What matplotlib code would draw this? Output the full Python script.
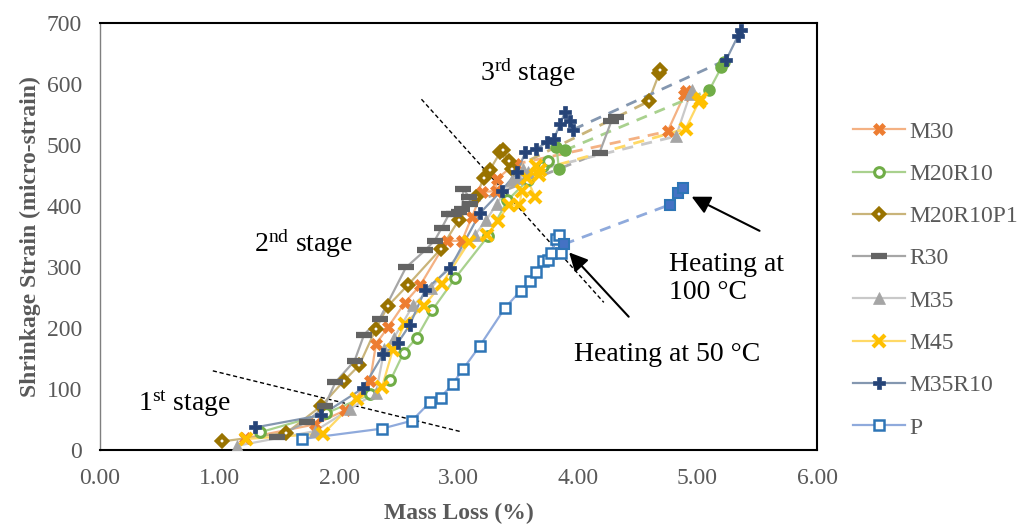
import matplotlib
matplotlib.use("Agg")
import matplotlib.pyplot as plt
from matplotlib.lines import Line2D

plt.rcParams['font.family'] = ['Liberation Serif', 'DejaVu Serif']
plt.rcParams['mathtext.fontset'] = 'custom'
plt.rcParams['mathtext.rm'] = 'Liberation Serif'
plt.rcParams['mathtext.it'] = 'Liberation Serif:italic'

# ---------------- data ----------------
x_ticks = [0, 1, 2, 3, 4, 5, 6]
x_tick_labels = ["0.00", "1.00", "2.00", "3.00", "4.00", "5.00", "6.00"]
y_ticks = [0, 100, 200, 300, 400, 500, 600, 700]

series_names = ["M30", "M20R10", "M20R10P1", "R30", "M35", "M45", "M35R10", "P"]

# M30
m30_amb_x = [1.21, 1.80, 2.05, 2.26, 2.31, 2.41, 2.55, 2.68, 2.90, 3.03, 3.11, 3.20, 3.31]
m30_amb_y = [19, 42, 65, 113, 174, 201, 241, 270, 342, 343, 381, 423, 424]
m30_h50_x = [3.32, 3.47]
m30_h50_y = [444, 468]
m30_h100_x = [4.75, 4.89, 4.90]
m30_h100_y = [522, 582, 588]

# M20R10
m20r10_amb_x = [1.34, 1.89, 2.26, 2.43, 2.54, 2.65, 2.78, 2.97, 3.25, 3.41, 3.58, 3.71, 3.75]
m20r10_amb_y = [29, 60, 91, 114, 159, 184, 229, 281, 351, 409, 442, 466, 473]
m20r10_h50_x = [3.84, 3.82, 3.89]
m20r10_h50_y = [461, 496, 491]
m20r10_h100_x = [5.10, 5.20, 5.22]
m20r10_h100_y = [590, 627, 636]

# M20R10P1
m20r10p1_amb_x = [1.02, 1.56, 1.85, 2.04, 2.17, 2.31, 2.41, 2.58, 2.85, 3.00, 3.15, 3.21, 3.26, 3.35, 3.37]
m20r10p1_amb_y = [14, 28, 72, 113, 139, 199, 236, 271, 329, 376, 415, 446, 458, 488, 492]
m20r10p1_h50_x = [3.42, 3.45]
m20r10p1_h50_y = [473, 461]
m20r10p1_h100_x = [4.59, 4.68, 4.69]
m20r10p1_h100_y = [571, 617, 622]

# R30
r30_amb_x = [1.48, 1.73, 1.88, 1.97, 2.13, 2.21, 2.34, 2.56, 2.72, 2.80, 2.86, 2.92, 2.96, 3.00, 3.03, 3.04]
r30_amb_y = [22, 46, 72, 111, 146, 189, 215, 299, 327, 343, 364, 386, 387, 390, 395, 428]
r30_h50_x = [3.09, 3.10]
r30_h50_y = [414, 403]
r30_h100_x = [4.18, 4.28, 4.32]
r30_h100_y = [487, 539, 545]

# M35
m35_amb_x = [1.15, 1.80, 2.09, 2.31, 2.38, 2.46, 2.62, 2.77, 3.14, 3.23, 3.32, 3.45, 3.54]
m35_amb_y = [7, 31, 67, 94, 165, 184, 237, 265, 353, 376, 403, 443, 461]
m35_h50_x = [3.50, 3.58]
m35_h50_y = [445, 455]
m35_h100_x = [4.82, 4.94, 4.95]
m35_h100_y = [514, 584, 589]

# M45
m45_amb_x = [1.22, 1.87, 2.15, 2.36, 2.45, 2.55, 2.71, 2.86, 3.09, 3.24, 3.33, 3.42, 3.51, 3.53, 3.64]
m45_amb_y = [18, 27, 83, 103, 164, 207, 236, 272, 341, 352, 375, 402, 401, 425, 415]
m45_h50_x = [3.57, 3.65, 3.67, 3.68]
m45_h50_y = [446, 466, 450, 459]
m45_h100_x = [4.90, 5.01, 5.03]
m45_h100_y = [526, 570, 575]

# M35R10
m35r10_amb_x = [1.30, 1.85, 2.20, 2.37, 2.49, 2.59, 2.72, 2.93, 3.18, 3.36, 3.49, 3.56, 3.65, 3.74, 3.80]
m35r10_amb_y = [37, 57, 101, 157, 175, 204, 262, 298, 388, 425, 455, 488, 493, 504, 510]
m35r10_h50_x = [3.85, 3.89, 3.93, 3.96]
m35r10_h50_y = [534, 553, 539, 525]
m35r10_h100_x = [5.24, 5.34, 5.36]
m35r10_h100_y = [639, 679, 688]

# P
p_amb_x = [1.69, 2.36, 2.61, 2.76, 2.85, 2.95, 3.04, 3.18, 3.39, 3.52, 3.60, 3.65, 3.71, 3.75, 3.77, 3.82, 3.84, 3.86]
p_amb_y = [18, 35, 48, 78, 86, 108, 133, 171, 233, 261, 277, 291, 309, 312, 323, 346, 352, 322]
p_h50_x = [3.88]
p_h50_y = [337]
p_h100_x = [4.77, 4.84, 4.88]
p_h100_y = [402, 421, 430]

# ---------------- styles ----------------
styles = {
    "M30": dict(line="#F4B183", mk=dict(marker="X", ms=8, mfc="#ED7D31", mec="#ED7D31", mew=0.5)),
    "M20R10": dict(line="#A9D18E", mk=dict(marker="o", ms=7, mfc="white", mec="#70AD47", mew=2.2),
                   mkh=dict(marker="o", ms=8, mfc="#70AD47", mec="#70AD47", mew=1)),
    "M20R10P1": dict(line="#C9B47A", mk=dict(marker="D", ms=5.5, mfc="white", mec="#997300", mew=3.2)),
    "R30": dict(line="#A6A6A6", mk=dict(marker="_", ms=11, mec="#636363", mew=4.5)),
    "M35": dict(line="#C9C9C9", mk=dict(marker="^", ms=8, mfc="#A5A5A5", mec="#A5A5A5", mew=0.5)),
    "M45": dict(line="#FFD966", mk=dict(marker="x", ms=8, mec="#FFC000", mew=3)),
    "M35R10": dict(line="#8497B0", mk=dict(marker="P", ms=8, mfc="#264478", mec="#264478", mew=0.5)),
    "P": dict(line="#8FAADC", mk=dict(marker="s", ms=7, mfc="white", mec="#2E75B6", mew=1.8),
              mkh=dict(marker="s", ms=7, mfc="#4472C4", mec="#2E75B6", mew=1.5)),
}

data = {
    "M30": (m30_amb_x, m30_amb_y, m30_h50_x, m30_h50_y, m30_h100_x, m30_h100_y),
    "M20R10": (m20r10_amb_x, m20r10_amb_y, m20r10_h50_x, m20r10_h50_y, m20r10_h100_x, m20r10_h100_y),
    "M20R10P1": (m20r10p1_amb_x, m20r10p1_amb_y, m20r10p1_h50_x, m20r10p1_h50_y, m20r10p1_h100_x, m20r10p1_h100_y),
    "R30": (r30_amb_x, r30_amb_y, r30_h50_x, r30_h50_y, r30_h100_x, r30_h100_y),
    "M35": (m35_amb_x, m35_amb_y, m35_h50_x, m35_h50_y, m35_h100_x, m35_h100_y),
    "M45": (m45_amb_x, m45_amb_y, m45_h50_x, m45_h50_y, m45_h100_x, m45_h100_y),
    "M35R10": (m35r10_amb_x, m35r10_amb_y, m35r10_h50_x, m35r10_h50_y, m35r10_h100_x, m35r10_h100_y),
    "P": (p_amb_x, p_amb_y, p_h50_x, p_h50_y, p_h100_x, p_h100_y),
}

fig = plt.figure(figsize=(10.24, 5.27), dpi=100)
ax = fig.add_axes([100 / 1024, 1 - 450 / 527, 717 / 1024, 427.3 / 527])

handles = []
for name in series_names:
    ax_, ay_, hx5, hy5, hx1, hy1 = data[name]
    st = styles[name]
    lc = st["line"]
    mk = st["mk"]
    mkh = st.get("mkh", mk)
    z = 3
    ax.plot(ax_ + hx5, ay_ + hy5, color=lc, lw=1.6, zorder=z)
    ax.plot([hx5[-1], hx1[0]], [hy5[-1], hy1[0]], color=lc, lw=2.0,
            ls=(0, (4, 3)), zorder=z)
    ax.plot(hx1, hy1, color=lc, lw=1.6, zorder=z)
    ax.plot(ax_, ay_, ls="none", zorder=z + 1, **mk)
    ax.plot(hx5, hy5, ls="none", zorder=z + 1, **mkh)
    ax.plot(hx1, hy1, ls="none", zorder=z + 1, **mkh)
    handles.append(Line2D([0], [0], color=lc, lw=1.6, label=name, **mk))

ax.set_xlim(0, 6)
ax.set_ylim(0, 700)
ax.set_xticks(x_ticks)
ax.set_xticklabels(x_tick_labels)
ax.set_yticks(y_ticks)
ax.tick_params(axis="both", length=0, labelsize=17, colors="#595959")
ax.tick_params(axis="x", pad=13)
ax.tick_params(axis="y", pad=13)
for s in ["top", "right", "bottom"]:
    ax.spines[s].set_color("black")
    ax.spines[s].set_linewidth(1.5)
ax.spines["left"].set_color("#7f7f7f")
ax.spines["left"].set_linewidth(1.0)

ax.set_xlabel("Mass Loss (%)", fontsize=17, fontweight="bold", color="#595959", labelpad=10)
ax.set_ylabel("Shrinkage Strain (micro-strain)", fontsize=17, fontweight="bold", color="#595959", labelpad=4)

# stage boundary lines
ax.plot([0.944, 3.01], [129.7, 30.5], color="black", lw=1.0, ls=(0, (3, 2)), zorder=2)
ax.plot([2.69, 4.216], [574.6, 241.8], color="black", lw=1.0, ls=(0, (3, 2)), zorder=2)

# stage labels
ax.text(0.71, 75, r"1$^{\mathrm{st}}$ stage", fontsize=20, ha="center", va="center")
ax.text(1.70, 338, r"2$^{\mathrm{nd}}$ stage", fontsize=20, ha="center", va="center")
ax.text(3.58, 618, r"3$^{\mathrm{rd}}$ stage", fontsize=20, ha="center", va="center")

# arrows and heating labels
ax.annotate("", xy=(3.91, 327), xytext=(4.44, 215),
            arrowprops=dict(arrowstyle="-|>", color="black", lw=1.5, mutation_scale=28), zorder=6)
ax.text(4.75, 156, "Heating at 50 °C", fontsize=20, ha="center", va="center")
ax.annotate("", xy=(4.93, 417), xytext=(5.54, 357),
            arrowprops=dict(arrowstyle="-|>", color="black", lw=1.5, mutation_scale=28), zorder=6)
ax.text(4.76, 281, "Heating at\n100 °C", fontsize=20, ha="left", va="center", linespacing=1.15)

leg = fig.legend(handles=handles, loc="upper left", bbox_to_anchor=(853 / 1024, 1 - 121 / 527),
                 frameon=False, fontsize=17, handlelength=2.2, handletextpad=0.2,
                 labelspacing=0.88, labelcolor="#595959", borderpad=0, borderaxespad=0)

fig.savefig("out.png", dpi=100)
